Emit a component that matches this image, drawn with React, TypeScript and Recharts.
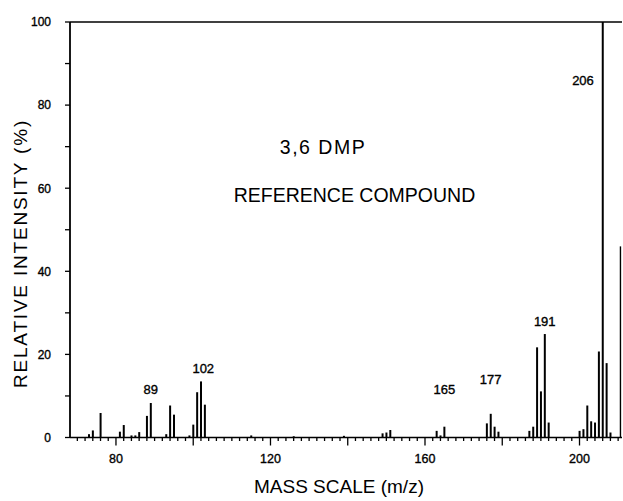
import React from "react";
import {
  ComposedChart,
  Bar,
  XAxis,
  YAxis,
  ReferenceLine,
  ReferenceDot,
} from "recharts";

// m/z of every line in the spectrum
const masses = [
  73, 74, 76, 81, 82, 84, 85, 86, 88, 89, 93, 94, 95, 99, 100, 101, 102, 103,
  115, 126, 139, 149, 150, 151, 163, 164, 165, 176, 177, 178, 179, 187, 188,
  189, 190, 191, 192, 200, 201, 202, 203, 204, 205, 206, 207, 208,
];

// relative intensity (%) of each line, same order as masses
const intensities = [
  0.8, 1.7, 5.9, 1.4, 3.0, 0.5, 0.5, 1.3, 5.2, 8.3, 0.8, 7.7, 5.5, 0.5, 3.1,
  10.9, 13.5, 7.9, 0.5, 0.3, 0.4, 1.0, 1.2, 1.8, 1.6, 0.5, 2.6, 3.4, 5.7, 2.6,
  1.4, 1.6, 2.6, 21.7, 11.1, 24.9, 3.6, 1.6, 2.0, 7.7, 3.9, 3.6, 20.7, 100,
  17.9, 1.2,
];

// numbers written over some peaks, and where they sit (m/z, %)
const peakLabels = ["89", "102", "165", "177", "191", "206"];
const labelMz = [89, 102.6, 165, 177, 191, 200.9];
const labelHeight = [11.5, 16.6, 11.7, 13.9, 27.9, 86];

const xLabels = [80, 120, 160, 200];
const yLabels = [0, 20, 40, 60, 80, 100];
const yTicks = [0, 10, 20, 30, 40, 50, 60, 70, 80, 90, 100];
const xTicks = Array.from({ length: 71 }, (_, i) => 70 + i * 2);

const FONT = '"Liberation Sans", Arial, sans-serif';

const data = masses.map((m, i) => ({ x: m, y: intensities[i] }));

const XTick = ({ x, y, payload }: any) => {
  const v = payload.value;
  const major = v % 20 === 0;
  return (
    <g>
      <line
        x1={x}
        x2={x}
        y1={y}
        y2={y + (major ? 8 : 3.5)}
        stroke="#000"
        strokeWidth={1.3}
      />
      {xLabels.includes(v) && (
        <text
          x={x}
          y={y + 25}
          textAnchor="middle"
          fontSize={12.5}
          fontFamily={FONT}
          fill="#000"
          stroke="#000"
          strokeWidth={0.35}
        >
          {v}
        </text>
      )}
    </g>
  );
};

const YTick = ({ x, y, payload }: any) => {
  const v = payload.value;
  return (
    <g>
      <line x1={x - 5} x2={x} y1={y} y2={y} stroke="#000" strokeWidth={1.3} />
      {yLabels.includes(v) && (
        <text
          x={x - 19}
          y={y + 4.3}
          textAnchor="end"
          fontSize={12}
          fontFamily={FONT}
          fill="#000"
          stroke="#000"
          strokeWidth={0.35}
        >
          {v}
        </text>
      )}
    </g>
  );
};

export default function App() {
  return (
    <div
      style={{
        position: "absolute",
        left: 0,
        top: 0,
        width: 623,
        height: 501,
        background: "#fff",
        overflow: "hidden",
      }}
    >
      <ComposedChart
        width={623}
        height={501}
        data={data}
        margin={{ top: 22, right: 1, left: 20, bottom: 33.5 }}
      >
        <XAxis
          dataKey="x"
          type="number"
          domain={[68.1, 211]}
          ticks={xTicks}
          interval={0}
          allowDataOverflow
          height={30}
          tickSize={0}
          tickMargin={0}
          tickLine={false}
          tick={<XTick />}
          axisLine={{ stroke: "#000", strokeWidth: 1.6 }}
        />
        <YAxis
          dataKey="y"
          type="number"
          domain={[0, 100]}
          ticks={yTicks}
          interval={0}
          width={50}
          tickSize={0}
          tickMargin={0}
          tickLine={false}
          tick={<YTick />}
          axisLine={{ stroke: "#000", strokeWidth: 1.8 }}
        />
        <ReferenceLine y={100} stroke="#000" strokeWidth={1.6} />
        <ReferenceLine
          segment={[
            { x: 210.6, y: 0 },
            { x: 210.6, y: 46 },
          ]}
          stroke="#000"
          strokeWidth={1.4}
        />
        <Bar dataKey="y" fill="#000" barSize={2} isAnimationActive={false} />
        {peakLabels.map((t, i) => (
          <ReferenceDot
            key={t}
            x={labelMz[i]}
            y={labelHeight[i]}
            r={0}
            fill="none"
            stroke="none"
            label={{
              value: t,
              position: "center",
              fontSize: 13,
              fontFamily: FONT,
              fill: "#000",
              stroke: "#000",
              strokeWidth: 0.35,
            }}
          />
        ))}
      </ComposedChart>
      <svg
        width={623}
        height={501}
        style={{ position: "absolute", left: 0, top: 0, pointerEvents: "none" }}
        fontFamily={FONT}
        fill="#000"
      >
        <text
          x={323}
          y={154}
          textAnchor="middle"
          fontSize={19.5}
          letterSpacing={1.5}
        >
          3,6 DMP
        </text>
        <text x={354.5} y={201.7} textAnchor="middle" fontSize={19.5}>
          REFERENCE COMPOUND
        </text>
        <text x={339} y={493.3} textAnchor="middle" fontSize={19}>
          MASS SCALE (m/z)
        </text>
        <text
          x={27}
          y={253.5}
          textAnchor="middle"
          fontSize={19}
          letterSpacing={1.8}
          transform="rotate(-90 27 253.5)"
        >
          RELATIVE INTENSITY (%)
        </text>
      </svg>
    </div>
  );
}
